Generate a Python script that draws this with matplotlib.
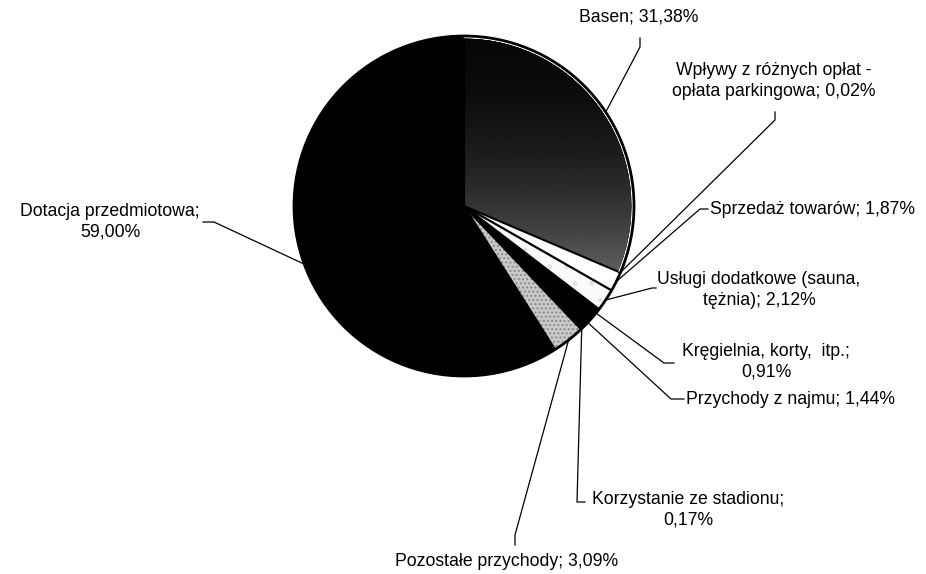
import numpy as np
import matplotlib
matplotlib.use("Agg")
import matplotlib.pyplot as plt
from matplotlib.lines import Line2D
from matplotlib.patches import Circle, Wedge

# ---- data ----
categories = [
    "Basen", "Wpływy z różnych opłat -\nopłata parkingowa", "Sprzedaż towarów",
    "Usługi dodatkowe (sauna,\ntężnia)", "Kręgielnia, korty,  itp.",
    "Przychody z najmu", "Korzystanie ze stadionu", "Pozostałe przychody",
    "Dotacja przedmiotowa",
]
values = [31.38, 0.02, 1.87, 2.12, 0.91, 1.44, 0.17, 3.09, 59.00]
value_labels = ["31,38%", "0,02%", "1,87%", "2,12%", "0,91%", "1,44%", "0,17%", "3,09%", "59,00%"]
label_sep = [" ", " ", " ", " ", "\n", " ", "\n", " ", "\n"]

# ---- style ----
colors = ["#2a2a2a", "#ffffff", "#ffffff", "#fafafa", "#000000",
          "#000000", "#ffffff", "#cacaca", "#000000"]
W, H = 926, 574
CX, CY, R = 464, 206, 170  # pixel coords (y down)

plt.rcParams['font.family'] = ['Liberation Sans', 'DejaVu Sans']

fig = plt.figure(figsize=(W / 100, H / 100), dpi=100)
ax = fig.add_axes([0, 0, 1, 1])

def P(x, y):
    return x, H - y

wedges, _ = ax.pie(values, startangle=90, counterclock=False, colors=colors,
                   center=P(CX, CY), radius=R,
                   wedgeprops=dict(edgecolor="none", linewidth=0))
ax.set_xlim(0, W)
ax.set_ylim(0, H)
ax.set_aspect("equal")
ax.axis("off")

# gradient fill for the first (Basen) wedge
bw = wedges[0]
yy = np.linspace(0, 1, 256).reshape(-1, 1)
grad = 0.03 + 0.36 * yy ** 2.0  # dark at top -> lighter at bottom
im = ax.imshow(grad, cmap="gray", vmin=0, vmax=1, aspect="auto",
               extent=(CX, CX + R, H - (CY + 72), H - (CY - R)),
               origin="upper", zorder=bw.get_zorder() + 0.1, interpolation="bilinear")
im.set_clip_path(bw)

# pale speckle look for small wedges via hatching
wedges[7].set_hatch("....")
wedges[7].set_edgecolor("#8a8a8a")
wedges[3].set_hatch(".")
wedges[3].set_edgecolor("#e2e2e2")
for w in (wedges[3], wedges[7]):
    w.set_linewidth(0)

# radial boundaries
cx, cy = P(CX, CY)
for i, w in enumerate(wedges):
    th = np.deg2rad(w.theta1)
    col = "white" if i == 0 else "black"
    lw = 1.0 if i == 0 else 1.6
    ax.add_line(Line2D([cx, cx + R * np.cos(th)], [cy, cy + R * np.sin(th)],
                       color=col, lw=lw, zorder=5, solid_capstyle="butt"))
# white inner rim of Basen and outer black circle
ax.add_patch(Wedge((cx, cy), R - 1.5, bw.theta1, bw.theta2, width=0.01,
                   facecolor="none", edgecolor="white", lw=0.8, zorder=5))
ax.add_patch(Circle((cx, cy), R, facecolor="none", edgecolor="black", lw=2.0, zorder=6))

# ---- labels with leader lines (pixel positions of text and elbows) ----
label_pos = [
    (639, 17, "center"), (774, 81, "center"), (710, 210, "left"),
    (759, 290, "center"), (766, 362, "center"), (686, 400, "left"),
    (688, 510, "center"), (507, 562, "center"), (110, 222, "center"),
]
elbows = [
    [(640, 47), (640, 38)],
    [(775, 120), (775, 112)],
    [(700, 209), (708, 209)],
    [(652, 288), (656, 288)],
    [(664, 363), (674, 363)],
    [(671, 399), (684, 399)],
    [(577, 502), (585, 502)],
    [(515, 535), (515, 545)],
    [(214, 222), (203, 222)],
]

for i, w in enumerate(wedges):
    if i == 8:
        # leader for the big wedge touches the left-lower rim
        ang = np.deg2rad(200.0)
    else:
        ang = np.deg2rad((w.theta1 + w.theta2) / 2)
    start = (cx + R * np.cos(ang), cy + R * np.sin(ang))
    pts = [start] + [P(*e) for e in elbows[i]]
    xs, ys = zip(*pts)
    ax.add_line(Line2D(xs, ys, color="black", lw=0.9, zorder=7))
    tx, ty, ha = label_pos[i]
    txt = categories[i] + ";" + label_sep[i] + value_labels[i]
    ax.text(*P(tx, ty), txt, ha=ha, va="center", fontsize=12.7,
            multialignment="center", linespacing=1.3, zorder=8)

fig.savefig("out.png", dpi=100)
